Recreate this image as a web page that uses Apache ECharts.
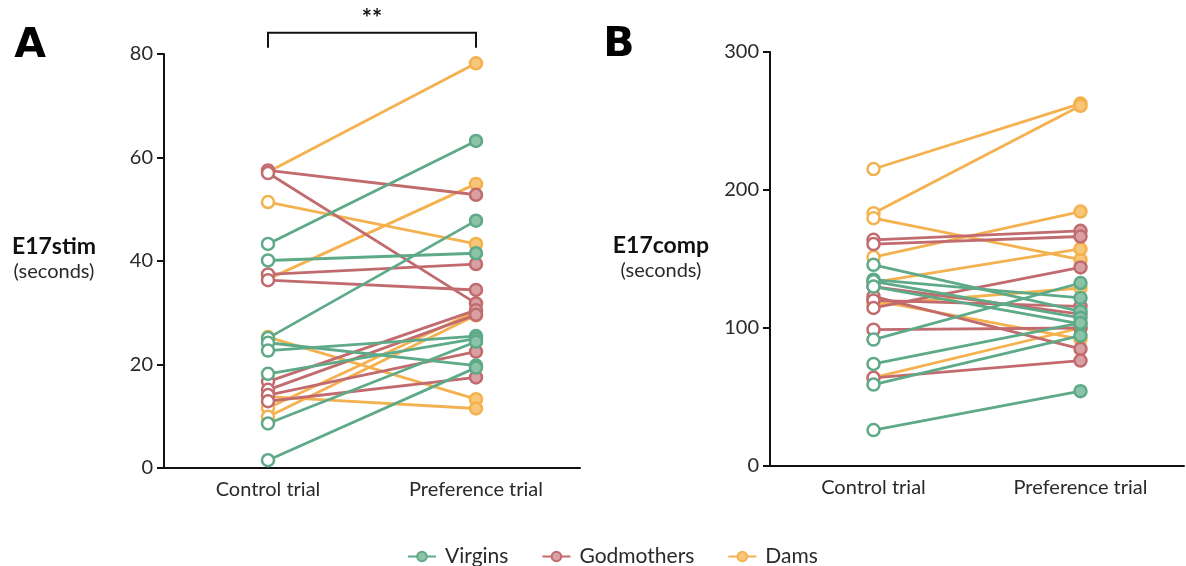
<!DOCTYPE html>
<html>
<head>
<meta charset="utf-8">
<script src="https://cdn.jsdelivr.net/npm/echarts@6/dist/echarts.min.js"></script>
<style>
html,body{margin:0;padding:0;background:#fff;}
#chart{width:1186px;height:566px;}
</style>
</head>
<body>
<div id="chart"></div>
<script>
// ---- data ----
const categories = ['Control trial', 'Preference trial'];
const groups = ['Virgins', 'Godmothers', 'Dams'];

// Panel A: E17stim (seconds)
const virginsA_control = [43.3, 40.1, 25.1, 24.2, 22.7, 18.2, 8.6, 1.5];
const virginsA_pref    = [63.2, 41.5, 47.8, 19.8, 25.5, 25.0, 24.4, 19.4];
const godmothersA_control = [57.5, 57.0, 37.4, 36.3, 16.7, 15.1, 14.1, 12.9];
const godmothersA_pref    = [52.8, 31.8, 39.4, 34.4, 30.5, 29.6, 22.5, 17.5];
const damsA_control = [57.2, 51.4, 36.5, 25.3, 13.8, 11.6, 9.9];
const damsA_pref    = [78.2, 43.3, 54.9, 13.3, 11.5, 30.3, 29.5];

// Panel B: E17comp (seconds)
const virginsB_control = [145.8, 135.0, 133.8, 130.0, 91.6, 74.0, 59.0, 26.0];
const virginsB_pref    = [112.0, 121.8, 107.3, 103.0, 132.6, 103.7, 94.5, 54.2];
const godmothersB_control = [163.9, 160.8, 130.0, 122.9, 120.0, 114.5, 98.8, 63.9];
const godmothersB_pref    = [170.4, 166.3, 110.0, 84.9, 115.7, 143.9, 100.0, 76.4];
const damsB_control = [215.2, 183.2, 179.6, 151.4, 133.0, 120.0, 117.0, 64.0];
const damsB_pref    = [262.6, 261.0, 149.5, 184.4, 157.4, 92.0, 129.0, 100.0];

const yTicksA = [0, 20, 40, 60, 80];
const yTicksB = [0, 100, 200, 300];

// ---- styles ----
const mainColors = {Virgins: '#5eaa88', Godmothers: '#c26b6f', Dams: '#f4b14f'};
const fillColors = {Virgins: '#8cc2a8', Godmothers: '#d9a0a4', Dams: '#f7c677'};
const zOrder = {Virgins: 5, Godmothers: 4, Dams: 3};

function buildSeries(name, ctrl, pref, axisIdx) {
  return ctrl.map((c, i) => ({
    name: name,
    type: 'line',
    xAxisIndex: axisIdx,
    yAxisIndex: axisIdx,
    symbol: 'circle',
    symbolSize: 12,
    lineStyle: {color: mainColors[name], width: 2.8},
    itemStyle: {color: fillColors[name], borderColor: mainColors[name], borderWidth: 2.5},
    emphasis: {disabled: true},
    animation: false,
    z: zOrder[name],
    data: [
      {value: c, itemStyle: {color: '#ffffff', borderColor: mainColors[name], borderWidth: 2.5}},
      {value: pref[i]}
    ]
  }));
}

const series = [].concat(
  buildSeries('Virgins', virginsA_control, virginsA_pref, 0),
  buildSeries('Godmothers', godmothersA_control, godmothersA_pref, 0),
  buildSeries('Dams', damsA_control, damsA_pref, 0),
  buildSeries('Virgins', virginsB_control, virginsB_pref, 1),
  buildSeries('Godmothers', godmothersB_control, godmothersB_pref, 1),
  buildSeries('Dams', damsB_control, damsB_pref, 1)
);

const axisFont = {fontFamily: 'Lato', fontSize: 20, color: '#2a2a2a'};

function xAxis(gridIndex) {
  return {
    type: 'category', gridIndex: gridIndex, data: categories, boundaryGap: true,
    axisLine: {lineStyle: {color: '#111', width: 2}},
    axisTick: {alignWithLabel: true, length: 7, lineStyle: {color: '#111', width: 2}},
    axisLabel: Object.assign({margin: 12}, axisFont),
    splitLine: {show: false}
  };
}
function yAxis(gridIndex, ticks) {
  return {
    type: 'value', gridIndex: gridIndex,
    min: ticks[0], max: ticks[ticks.length - 1], interval: ticks[1] - ticks[0],
    axisLine: {show: true, lineStyle: {color: '#111', width: 2}},
    axisTick: {show: true, length: 7, lineStyle: {color: '#111', width: 2}},
    axisLabel: Object.assign({margin: 11}, axisFont),
    splitLine: {show: false}
  };
}

const chart = echarts.init(document.getElementById('chart'), null, {renderer: 'canvas'});
chart.setOption({
  backgroundColor: '#ffffff',
  animation: false,
  legend: {
    data: groups,
    top: 541,
    left: 402,
    itemWidth: 28,
    itemHeight: 12,
    itemGap: 33,
    textStyle: {fontFamily: 'Lato', fontSize: 21, color: '#2a2a2a', padding: [0, 0, 0, 4]},
    selectedMode: false
  },
  grid: [
    {left: 164, right: 606, top: 54, bottom: 98},
    {left: 770, right: 2, top: 52, bottom: 100}
  ],
  xAxis: [xAxis(0), xAxis(1)],
  yAxis: [yAxis(0, yTicksA), yAxis(1, yTicksB)],
  series: series
});

// significance bracket + panel labels
const p1 = chart.convertToPixel({xAxisIndex: 0, yAxisIndex: 0}, [categories[0], 84.1]);
const p2 = chart.convertToPixel({xAxisIndex: 0, yAxisIndex: 0}, [categories[1], 84.1]);
const pLow = chart.convertToPixel({xAxisIndex: 0, yAxisIndex: 0}, [categories[0], 81.2]);

chart.setOption({
  graphic: [
    {type: 'polyline', shape: {points: [[p1[0], pLow[1]], [p1[0], p1[1]], [p2[0], p2[1]], [p2[0], pLow[1]]]},
     style: {stroke: '#111', lineWidth: 2, fill: null}},
    {type: 'text', x: (p1[0] + p2[0]) / 2, y: p1[1] - 2,
     style: {text: '**', font: 'bold 24px Lato', fill: '#111', textAlign: 'center', textVerticalAlign: 'bottom'}},
    {type: 'text', x: 30, y: 46,
     style: {text: 'A', font: '900 41px "DejaVu Sans"', fill: '#000', textAlign: 'center', textVerticalAlign: 'middle'}},
    {type: 'text', x: 619, y: 45,
     style: {text: 'B', font: '900 41px "DejaVu Sans"', fill: '#000', textAlign: 'center', textVerticalAlign: 'middle'}},
    {type: 'text', x: 54, y: 247,
     style: {text: 'E17stim', font: 'bold 23px Lato', fill: '#111', textAlign: 'center', textVerticalAlign: 'middle'}},
    {type: 'text', x: 54, y: 272,
     style: {text: '(seconds)', font: '20px Lato', fill: '#2a2a2a', textAlign: 'center', textVerticalAlign: 'middle'}},
    {type: 'text', x: 661, y: 246,
     style: {text: 'E17comp', font: 'bold 23px Lato', fill: '#111', textAlign: 'center', textVerticalAlign: 'middle'}},
    {type: 'text', x: 661, y: 271,
     style: {text: '(seconds)', font: '20px Lato', fill: '#2a2a2a', textAlign: 'center', textVerticalAlign: 'middle'}}
  ]
});
</script>
</body>
</html>
